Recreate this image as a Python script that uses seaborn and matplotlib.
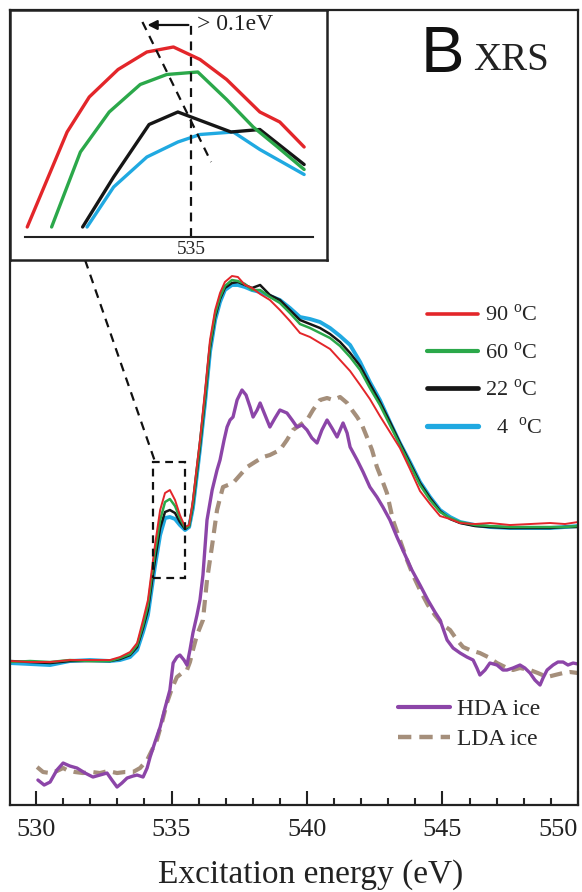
import matplotlib
matplotlib.use('Agg')
import numpy as np
import pandas as pd
import matplotlib.pyplot as plt
import seaborn as sns
from matplotlib.lines import Line2D
from matplotlib.patches import Rectangle
from matplotlib.ticker import MultipleLocator

# ---- liquid water XRS (arb. units) ----
water_energy = [529.04, 529.78, 530.52, 531.25, 531.99, 532.73, 533.10, 533.47, 533.73, 533.95,
                534.13, 534.39, 534.58, 534.76, 534.94, 535.13, 535.31, 535.50, 535.65, 535.79,
                535.94, 536.05, 536.24, 536.42, 536.61, 536.79, 536.97, 537.23, 537.45, 537.71,
                537.97, 538.27, 538.63, 539.00, 539.37, 539.74, 540.11, 540.48, 540.85, 541.22,
                541.59, 541.96, 542.32, 542.69, 543.06, 543.43, 543.80, 544.17, 544.54, 544.91,
                545.28, 545.65, 546.20, 546.75, 547.49, 548.23, 548.97, 549.52, 550.00]
t90 = [1.44, 1.43, 1.43, 1.45, 1.45, 1.45, 1.48, 1.53, 1.62, 1.85,
       2.05, 2.60, 2.95, 3.12, 3.15, 3.05, 2.90, 2.78, 2.80, 3.05,
       3.40, 3.65, 4.15, 4.65, 4.95, 5.12, 5.23, 5.29, 5.28, 5.20,
       5.17, 5.11, 5.05, 4.95, 4.84, 4.72, 4.68, 4.62, 4.56, 4.45,
       4.34, 4.20, 4.06, 3.89, 3.73, 3.57, 3.36, 3.14, 3.01, 2.89,
       2.86, 2.82, 2.81, 2.82, 2.80, 2.81, 2.82, 2.81, 2.83]
t60 = [1.43, 1.44, 1.43, 1.45, 1.44, 1.44, 1.47, 1.51, 1.60, 1.80,
       2.00, 2.53, 2.85, 3.03, 3.06, 2.99, 2.87, 2.77, 2.79, 3.02,
       3.37, 3.62, 4.10, 4.60, 4.91, 5.08, 5.19, 5.25, 5.24, 5.21,
       5.15, 5.15, 5.08, 5.02, 4.92, 4.81, 4.77, 4.72, 4.67, 4.59,
       4.48, 4.35, 4.17, 4.00, 3.80, 3.60, 3.40, 3.20, 3.05, 2.93,
       2.87, 2.83, 2.80, 2.79, 2.78, 2.78, 2.78, 2.78, 2.79]
t22 = [1.44, 1.43, 1.42, 1.44, 1.44, 1.44, 1.46, 1.50, 1.58, 1.77,
       1.95, 2.45, 2.77, 2.93, 2.95, 2.92, 2.83, 2.76, 2.79, 3.00,
       3.34, 3.59, 4.07, 4.57, 4.88, 5.06, 5.17, 5.22, 5.23, 5.20,
       5.17, 5.20, 5.10, 5.05, 4.95, 4.85, 4.81, 4.77, 4.71, 4.63,
       4.52, 4.39, 4.21, 4.03, 3.83, 3.62, 3.42, 3.22, 3.07, 2.94,
       2.86, 2.82, 2.79, 2.78, 2.77, 2.77, 2.77, 2.78, 2.78]
t4 = [1.42, 1.41, 1.40, 1.44, 1.45, 1.44, 1.45, 1.48, 1.55, 1.73,
      1.90, 2.39, 2.70, 2.87, 2.88, 2.86, 2.80, 2.75, 2.78, 2.97,
      3.31, 3.56, 4.03, 4.53, 4.85, 5.03, 5.15, 5.20, 5.20, 5.18,
      5.15, 5.13, 5.09, 5.05, 4.97, 4.88, 4.86, 4.83, 4.77, 4.69,
      4.60, 4.43, 4.23, 4.05, 3.83, 3.62, 3.43, 3.23, 3.08, 2.95,
      2.88, 2.83, 2.80, 2.78, 2.77, 2.77, 2.77, 2.78, 2.79]

# ---- amorphous ice ----
hda_energy = [530.07, 530.30, 530.52, 530.77, 531.00, 531.25, 531.51, 531.81, 532.10, 532.36,
              532.62, 532.80, 532.99, 533.17, 533.36, 533.58, 533.73, 533.95, 534.10, 534.21,
              534.39, 534.58, 534.76, 534.94, 535.06, 535.20, 535.31, 535.46, 535.57, 535.68,
              535.79, 535.94, 536.05, 536.16, 536.31, 536.50, 536.68, 536.79, 536.94, 537.05,
              537.16, 537.27, 537.42, 537.60, 537.75, 537.90, 538.01, 538.16, 538.27, 538.45,
              538.63, 538.82, 539.00, 539.26, 539.45, 539.63, 539.82, 540.00, 540.18, 540.37,
              540.55, 540.74, 540.92, 541.11, 541.22, 541.33, 541.48, 541.59, 541.85, 542.07,
              542.32, 542.58, 542.80, 543.06, 543.32, 543.62, 543.87, 544.17, 544.46, 544.72,
              544.91, 545.17, 545.39, 545.65, 545.90, 546.13, 546.27, 546.38, 546.57, 546.75,
              547.01, 547.23, 547.38, 547.60, 547.86, 548.04, 548.23, 548.41, 548.60, 548.71,
              548.86, 549.08, 549.26, 549.45, 549.63, 549.82, 550.00]
hda = [0.25, 0.20, 0.23, 0.35, 0.42, 0.39, 0.37, 0.32, 0.28, 0.30,
       0.32, 0.25, 0.18, 0.22, 0.27, 0.29, 0.30, 0.28, 0.37, 0.48,
       0.63, 0.78, 0.97, 1.15, 1.42, 1.48, 1.50, 1.45, 1.40, 1.55,
       1.72, 1.90, 2.05, 2.30, 2.85, 3.15, 3.35, 3.45, 3.65, 3.78,
       3.85, 3.88, 4.05, 4.15, 4.10, 3.98, 3.88, 3.95, 4.02, 3.90,
       3.78, 3.87, 3.95, 3.92, 3.85, 3.78, 3.80, 3.75, 3.67, 3.62,
       3.75, 3.85, 3.77, 3.68, 3.75, 3.82, 3.72, 3.58, 3.45, 3.33,
       3.18, 3.08, 2.98, 2.85, 2.68, 2.50, 2.35, 2.20, 2.05, 1.93,
       1.85, 1.65, 1.57, 1.52, 1.48, 1.45, 1.37, 1.30, 1.35, 1.42,
       1.40, 1.35, 1.35, 1.37, 1.40, 1.37, 1.32, 1.25, 1.20, 1.27,
       1.35, 1.40, 1.43, 1.43, 1.40, 1.42, 1.41]
lda_energy = [530.04, 530.26, 530.52, 530.77, 531.00, 531.14, 531.44, 531.73, 532.07, 532.36,
              532.66, 532.99, 533.28, 533.58, 533.84, 534.10, 534.28, 534.46, 534.65, 534.83,
              535.02, 535.20, 535.39, 535.57, 535.68, 535.79, 535.94, 536.16, 536.31, 536.50,
              536.68, 536.79, 536.90, 537.08, 537.27, 537.53, 537.79, 538.08, 538.38, 538.63,
              539.00, 539.26, 539.48, 539.74, 540.00, 540.22, 540.48, 540.74, 540.96, 541.22,
              541.48, 541.66, 541.85, 542.03, 542.21, 542.40, 542.58, 542.77, 542.95, 543.17,
              543.43, 543.69, 543.91, 544.17, 544.46, 544.72, 545.02, 545.28, 545.54, 545.76,
              546.01, 546.38, 546.68, 547.01, 547.31, 547.60, 547.86, 548.23, 548.52, 548.86,
              549.15, 549.45, 549.71, 550.00]
lda = [0.38, 0.33, 0.32, 0.34, 0.37, 0.35, 0.33, 0.32, 0.33, 0.32,
       0.34, 0.32, 0.33, 0.33, 0.37, 0.45, 0.55, 0.65, 0.83, 1.02,
       1.17, 1.28, 1.32, 1.35, 1.43, 1.55, 1.70, 1.85, 2.25, 2.60,
       2.95, 3.07, 3.18, 3.20, 3.22, 3.30, 3.38, 3.43, 3.48, 3.50,
       3.55, 3.65, 3.75, 3.80, 3.85, 3.95, 4.05, 4.07, 4.05, 4.08,
       4.02, 3.95, 3.88, 3.80, 3.68, 3.55, 3.38, 3.25, 3.12, 2.85,
       2.65, 2.45, 2.30, 2.15, 2.00, 1.90, 1.80, 1.75, 1.65, 1.58,
       1.55, 1.52, 1.48, 1.42, 1.38, 1.35, 1.37, 1.35, 1.32, 1.28,
       1.30, 1.32, 1.33, 1.32]

# ---- inset (pre-edge zoom) ----
in90_e = [534.26, 534.35, 534.44, 534.54, 534.67, 534.80, 534.92, 535.04, 535.16, 535.31, 535.40, 535.51]
in90 = [2.34, 2.53, 2.72, 2.86, 2.97, 3.04, 3.06, 3.01, 2.93, 2.80, 2.76, 2.66]
in60_e = [534.37, 534.50, 534.63, 534.77, 534.89, 535.03, 535.16, 535.28, 535.39, 535.51]
in60 = [2.34, 2.64, 2.80, 2.91, 2.95, 2.96, 2.85, 2.74, 2.66, 2.57]
in22_e = [534.51, 534.65, 534.81, 534.94, 535.03, 535.18, 535.31, 535.41, 535.51]
in22 = [2.34, 2.54, 2.75, 2.80, 2.77, 2.72, 2.73, 2.66, 2.59]
in4_e = [534.53, 534.65, 534.80, 534.94, 535.04, 535.19, 535.31, 535.41, 535.51]
in4 = [2.34, 2.50, 2.62, 2.68, 2.71, 2.72, 2.65, 2.60, 2.55]

x_ticks = [530, 535, 540, 545, 550]
labels = ['90 $^{\\mathrm{o}}$C', '60 $^{\\mathrm{o}}$C', '22 $^{\\mathrm{o}}$C', '  4  $^{\\mathrm{o}}$C']
colors = ['#e3262a', '#2ba84a', '#161616', '#20a9e1']
c_hda, c_lda = '#8c45a8', '#a58f7b'

sns.set_style('ticks')
plt.rcParams['font.family'] = ['Liberation Serif', 'DejaVu Serif']
plt.rcParams['mathtext.fontset'] = 'custom'
plt.rcParams['mathtext.rm'] = 'Liberation Serif'

fig = plt.figure(figsize=(5.82, 8.92), dpi=100)
ax = fig.add_axes([0.0172, 0.0975, 0.9759, 0.8913])

water = [t90, t60, t22, t4]
lws = [1.4, 1.8, 1.8, 2.8]
for i in [3, 2, 1, 0]:
    sns.lineplot(x=water_energy, y=water[i], ax=ax, color=colors[i], lw=lws[i],
                 estimator=None, legend=False)
sns.lineplot(x=lda_energy, y=lda, ax=ax, color=c_lda, lw=3.0, ls=(0, (3, 1.8)),
             estimator=None, legend=False)
sns.lineplot(x=hda_energy, y=hda, ax=ax, color=c_hda, lw=2.4, estimator=None, legend=False)

ax.set_xlim(529.04, 550.0)
ax.set_ylim(0, 7.95)
ax.set_yticks([])
ax.set_xticks(x_ticks)
ax.set_xticklabels([str(t) for t in x_ticks])
ax.xaxis.set_minor_locator(MultipleLocator(1))
ax.tick_params(axis='x', which='major', direction='in', length=10, width=1.5,
               labelsize=19, pad=10, colors='#222222')
ax.tick_params(axis='x', which='minor', direction='in', length=5, width=1.5)
ax.xaxis.get_major_ticks()[-1].label1.set_horizontalalignment('right')
for s in ax.spines.values():
    s.set_linewidth(1.6)
    s.set_color('#222222')
ax.set_xlabel('Excitation energy (eV)', fontsize=24, color='#222222')
ax.xaxis.set_label_coords(0.53, -0.068)
ax.set_ylabel('')

# dashed zoom box and guide line
ax.add_patch(Rectangle((534.32, 2.27), 1.18, 1.16, fill=False, ls=(0, (3.5, 2.5)),
                       lw=1.6, ec='#111111', zorder=5))
ax.plot([531.81, 534.37], [5.45, 3.45], ls=(0, (4, 3)), lw=1.6, color='#111111',
        clip_on=False, zorder=5)

# legends
h1 = [Line2D([], [], color=c, lw=w) for c, w in zip(colors, [2.6, 3.0, 3.4, 3.8])]
leg1 = ax.legend(h1, labels, loc='upper left', bbox_to_anchor=(0.7337, 0.658),
                 bbox_transform=fig.transFigure, frameon=False, fontsize=16,
                 handlelength=2.3, handletextpad=0.3, labelspacing=0.72,
                 borderpad=0, borderaxespad=0)
ax.add_artist(leg1)
h2 = [Line2D([], [], color=c_hda, lw=3.0),
      Line2D([], [], color=c_lda, lw=3.2, ls=(0, (3, 1.8)))]
ax.legend(h2, ['HDA ice', 'LDA ice'], loc='upper left', bbox_to_anchor=(0.684, 0.2164),
          bbox_transform=fig.transFigure, frameon=False, fontsize=17,
          handlelength=2.2, handletextpad=0.3, labelspacing=0.33,
          borderpad=0, borderaxespad=0)

fig.text(0.722, 0.919, 'B', fontsize=47, family='Liberation Sans', va='baseline', color='#111111')
fig.text(0.813, 0.9215, 'XRS', fontsize=28, va='baseline', color='#222222')

# inset box
box = fig.add_axes([0.0172, 0.7085, 0.5447, 0.2803])
box.set_xticks([])
box.set_yticks([])
box.set_facecolor('white')
for s in box.spines.values():
    s.set_linewidth(1.8)
    s.set_color('#222222')

axin = fig.add_axes([0.043, 0.7343, 0.4948, 0.2489])
axin.patch.set_alpha(0)
for e, v, c in zip([in4_e, in22_e, in60_e, in90_e], [in4, in22, in60, in90],
                   [colors[3], colors[2], colors[1], colors[0]]):
    sns.lineplot(x=e, y=v, ax=axin, color=c, lw=2.4, estimator=None, legend=False)
axin.set_xlim(534.25, 535.55)
axin.set_ylim(2.30, 3.188)
for k in ['top', 'left', 'right']:
    axin.spines[k].set_visible(False)
axin.spines['bottom'].set_linewidth(1.5)
axin.spines['bottom'].set_color('#222222')
axin.set_yticks([])
axin.set_xticks([535])
axin.set_xticklabels(['535'])
axin.tick_params(axis='x', length=0, labelsize=14, pad=3)
axin.plot([535, 535], [2.30, 3.168], ls=(0, (4, 3)), lw=1.6, color='#111111')
axin.plot([534.78, 535.09], [3.16, 2.60], ls=(0, (4, 3)), lw=1.6, color='#111111')
axin.annotate('', xy=(534.79, 3.148), xytext=(535.0, 3.148),
              arrowprops=dict(arrowstyle='-|>', lw=1.6, color='#111111', mutation_scale=14))
axin.text(535.025, 3.148, '> 0.1eV', fontsize=17, va='center', ha='left', color='#222222')

fig.savefig('out.png', dpi=100)
